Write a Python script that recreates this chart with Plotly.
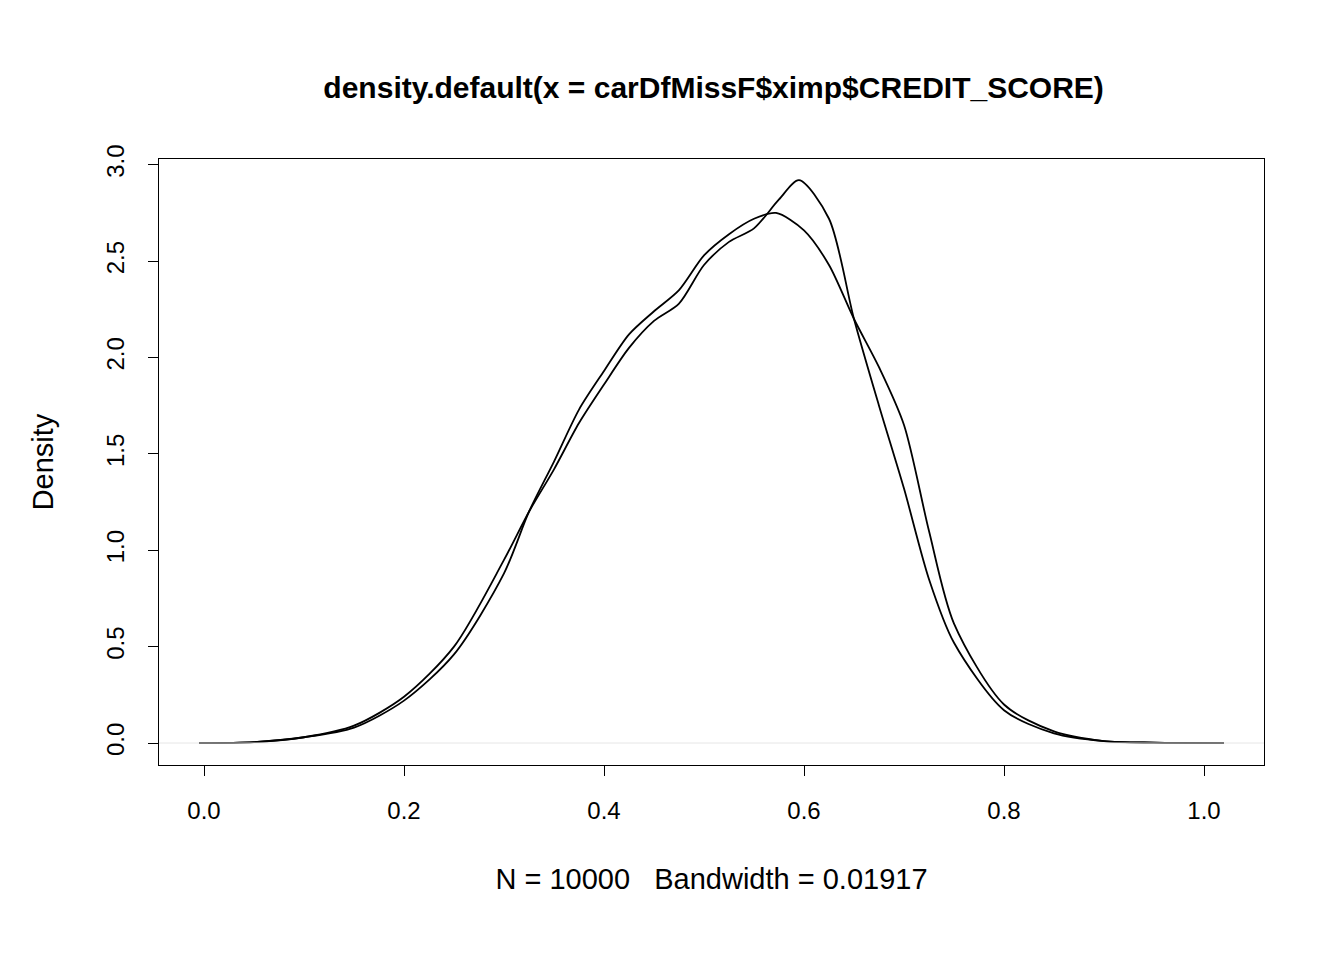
import plotly.graph_objects as go

xa = [-0.005,0.05,0.1,0.15,0.2,0.25,0.3,0.325,0.35,0.375,0.4,0.425,0.45,0.475,0.5,0.525,0.55,0.575,0.595,0.625,0.65,0.675,0.7,0.725,0.75,0.8,0.85,0.9,0.95,1.02]
ya = [0,0.005,0.03,0.09,0.24,0.5,0.95,1.2,1.42,1.66,1.86,2.05,2.19,2.28,2.48,2.6,2.67,2.82,2.92,2.72,2.2,1.75,1.32,0.85,0.52,0.17,0.05,0.01,0.002,0]
xb = [-0.005,0.05,0.1,0.15,0.2,0.25,0.3,0.325,0.35,0.375,0.4,0.425,0.45,0.475,0.5,0.525,0.55,0.572,0.6,0.625,0.65,0.675,0.7,0.725,0.75,0.8,0.85,0.9,0.95,1.02]
yb = [0,0.005,0.03,0.08,0.22,0.46,0.88,1.2,1.46,1.73,1.93,2.12,2.24,2.35,2.53,2.64,2.72,2.75,2.66,2.48,2.2,1.95,1.65,1.1,0.62,0.2,0.06,0.01,0.002,0]

fig = go.Figure()
fig.add_hline(y=0, line=dict(color="#e6e6e6", width=1))
for x, y in [(xa, ya), (xb, yb)]:
    fig.add_trace(go.Scatter(x=x, y=y, mode="lines", line=dict(color="black", width=1.8, shape="spline", smoothing=0.8), showlegend=False))

font = dict(family="Liberation Sans, Arial", size=24, color="black")
fig.update_layout(
    width=1344, height=960, paper_bgcolor="white", plot_bgcolor="white",
    margin=dict(l=151, r=88, t=151, b=203), font=font,
    title=dict(text="<b>density.default(x = carDfMissF$ximp$CREDIT_SCORE)</b>", x=0.525, xanchor="center", y=0.917, yanchor="middle", font=dict(size=30, family="Liberation Sans, Arial")),
    xaxis=dict(range=[-0.045, 1.06], tickvals=[0,0.2,0.4,0.6,0.8,1.0], ticktext=["0.0","0.2","0.4","0.6","0.8","1.0"],
               ticks="outside", ticklen=10, tickwidth=1.3, tickcolor="black", showgrid=False, zeroline=False,
               showline=True, linecolor="black", linewidth=1.3, mirror=True, ticklabelstandoff=14,
               title=dict(text="N = 10000   Bandwidth = 0.01917", standoff=45)),
    yaxis=dict(range=[-0.114, 3.03], tickvals=[0,0.5,1,1.5,2,2.5,3], ticktext=["0.0","0.5","1.0","1.5","2.0","2.5","3.0"],
               tickangle=-90, ticks="outside", ticklen=10, tickwidth=1.3, tickcolor="black", showgrid=False, zeroline=False,
               showline=True, linecolor="black", linewidth=1.3, mirror=True, ticklabelstandoff=14,
               title=dict(text="Density", standoff=40)),
)
fig.write_html("out.html")
